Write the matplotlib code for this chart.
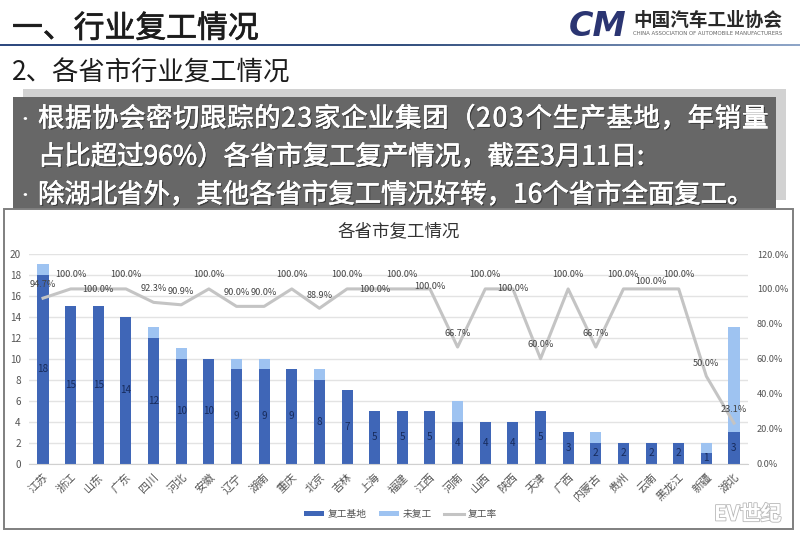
import numpy as np
import matplotlib
matplotlib.use('Agg')
import matplotlib.pyplot as plt
import matplotlib.patheffects as pe
from matplotlib.patches import Rectangle

plt.rcParams['font.family'] = ['Noto Sans CJK SC', 'DejaVu Sans']

provinces = ['江苏','浙江','山东','广东','四川','河北','安徽','辽宁','湖南','重庆','北京','吉林','上海',
             '福建','江西','河南','山西','陕西','天津','广西','内蒙古','贵州','云南','黑龙江','新疆','湖北']
resumed = [18,15,15,14,12,10,10,9,9,9,8,7,5,5,5,4,4,4,5,3,2,2,2,2,1,3]
not_resumed = [1,0,0,0,1,1,0,1,1,0,1,0,0,0,0,2,0,0,0,0,1,0,0,0,1,10]
rate = [94.7,100,100,100,92.3,90.9,100,90,90,100,88.9,100,100,100,100,66.7,100,100,60,100,66.7,100,100,100,50,23.1]
# pixel lift of each rate label above its point
label_lift = [14,14,-1,14,14,13,14,14,14,14,13,14,-1,14,2,14,14,0,14,14,14,14,7,14,13,14]

W, H = 800, 540
fig = plt.figure(figsize=(W/100, H/100), dpi=100, facecolor='white')

def px(x, y):
    return x / W, 1 - y / H

def rect(x0, y0, x1, y1, **kw):
    fig.add_artist(Rectangle((x0 / W, 1 - y1 / H), (x1 - x0) / W, (y1 - y0) / H,
                             transform=fig.transFigure, **kw))

def text(x, y, s, **kw):
    kw.setdefault('va', 'center')
    return fig.text(*px(x, y), s, **kw)

def justified(x0, x1, y, s, **kw):
    """Draw s one character at a time, spreading it to span x0..x1 in pixels."""
    renderer = fig.canvas.get_renderer()
    widths = []
    for ch in s:
        probe = text(0, 0, ch, **kw)
        widths.append(probe.get_window_extent(renderer).width if ch.strip() else 0)
        probe.remove()
    # advance widths: CJK glyphs fill the em, latin glyphs keep their measured width
    em = kw['fontsize'] * 100 / 72
    adv = [em if ord(c) > 0x2000 else w + 1.2 for c, w in zip(s, widths)]
    extra = (x1 - x0 - sum(adv)) / (len(s) - 1)
    pos = x0
    for ch, a in zip(s, adv):
        text(pos, y, ch, **kw)
        pos += a + extra

# header
text(12, 29, '一、行业复工情况', fontsize=22.2, color='#1c1c1c',
     path_effects=[pe.withStroke(linewidth=0.5, foreground='#1c1c1c')])
rule = fig.add_axes([0, 1 - 46.5 / H, 1, 2.5 / H])
rule.imshow(np.linspace(0, 1, 256)[None, :], aspect='auto',
            cmap=matplotlib.colors.LinearSegmentedColormap.from_list('r', ['#2F4A80', '#34507F', '#8FA6C8']))
rule.axis('off')
text(12, 73.5, '2、各省市行业复工情况', fontsize=19, color='#1c1c1c')

# logo
text(569, 26, 'CM', fontsize=24, color='#2B3572', style='italic', weight='bold', family='DejaVu Sans')
text(633, 20, '中国汽车工业协会', fontsize=13.4, color='#2a2a2a', weight='bold')
text(633, 33.5, 'CHINA ASSOCIATION OF AUTOMOBILE MANUFACTURERS', fontsize=3.85, color='#666666', family='DejaVu Sans')

# text box
rect(23, 89, 786, 200, facecolor='#D2D2D2', edgecolor='none')
rect(13, 97, 776, 209, facecolor='#676767', edgecolor='none')
box_fx = [pe.withSimplePatchShadow(offset=(1, -1), shadow_rgbFace='#333333', alpha=0.8),
          pe.withStroke(linewidth=0.4, foreground='white')]
box_style = dict(fontsize=19, color='white', path_effects=box_fx)
justified(38, 768, 119, '根据协会密切跟踪的23家企业集团（203个生产基地，年销量', **box_style)
text(38, 157, '占比超过96%）各省市复工复产情况，截至3月11日:', **box_style)
text(38, 195, '除湖北省外，其他各省市复工情况好转，16个省市全面复工。', **box_style)
for y in (119, 195):
    text(25, y, '•', fontsize=12, color='white', ha='center')

# chart frame
rect(4, 209, 793, 529, facecolor='white', edgecolor='#7F7F7F', linewidth=1.4)

ax = fig.add_axes([29.2 / W, 1 - 463.5 / H, (747.8 - 29.2) / W, (463.5 - 254) / H])
ax.set_zorder(2)
x = np.arange(len(provinces))
b1 = ax.bar(x, resumed, width=0.4, color='#3F66B7', label='复工基地', zorder=2)
b2 = ax.bar(x, not_resumed, width=0.4, bottom=resumed, color='#9EC3F1', label='未复工', zorder=2)
for xi, v in zip(x, resumed):
    ax.text(xi, v / 2, str(v), ha='center', va='center', fontsize=7.2, color='#172B5C', zorder=3)
ax.set_xlim(-0.5, len(provinces) - 0.5)
ax.set_ylim(0, 20)
ax.set_yticks(range(0, 21, 2))
ax.set_xticks(x)
ax.set_xticklabels(provinces, rotation=45, ha='right', rotation_mode='anchor', fontsize=8, color='#555555')
ax.tick_params(axis='both', length=0)
ax.tick_params(axis='y', labelsize=7.2, labelcolor='#555555', pad=6)
ax.tick_params(axis='x', pad=6)
ax.grid(axis='y', color='#E3E3E3', linewidth=1, zorder=0)
ax.set_axisbelow(True)
for side in ('top', 'left', 'right'):
    ax.spines[side].set_visible(False)
ax.spines['bottom'].set_color('#D0D0D0')

ax2 = ax.twinx()
ax2.set_zorder(3)
line, = ax2.plot(x, rate, color='#C4C4C4', lw=2.2, label='复工率', solid_joinstyle='round')
ax2.set_ylim(0, 120)
ax2.set_yticks(range(0, 121, 20))
ax2.set_yticklabels([f'{v}.0%' for v in range(0, 121, 20)], fontsize=6.6, color='#555555')
ax2.tick_params(axis='y', length=0, pad=6.5)
for side in ('top', 'left', 'right', 'bottom'):
    ax2.spines[side].set_visible(False)
for xi, r, lift in zip(x, rate, label_lift):
    ax2.annotate(f'{r:.1f}%', (xi, r), xytext=(0, lift), textcoords='offset pixels',
                 ha='center', va='center', fontsize=6.6, color='#444444')

text(398.5, 231.5, '各省市复工情况', fontsize=12.6, color='#333333', ha='center')
fig.legend([b1, b2, line], ['复工基地', '未复工', '复工率'], ncol=3, frameon=False,
           loc='center', bbox_to_anchor=px(400.5, 514), fontsize=7, labelcolor='#555555',
           handlelength=2, handleheight=0.4, handletextpad=0.4, columnspacing=1.3)

# watermark
text(714, 514, 'EV世纪', fontsize=15, color='white', style='italic', weight='bold',
     path_effects=[pe.withStroke(linewidth=1.2, foreground='#B8B8B8')], zorder=10)

fig.savefig('out.png', dpi=100, facecolor='white')
